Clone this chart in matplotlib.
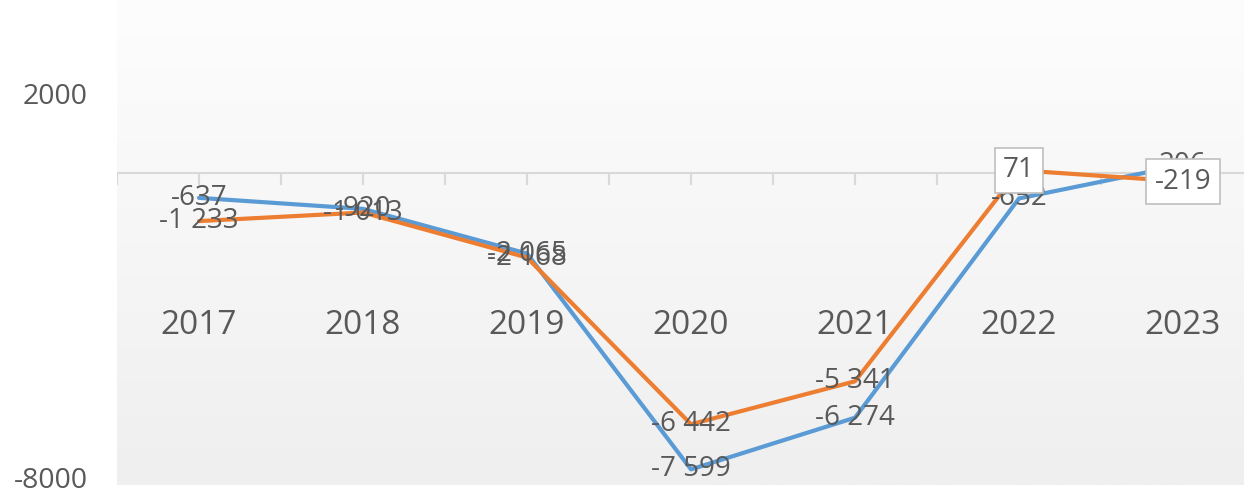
import numpy as np
import matplotlib
matplotlib.use('Agg')
import matplotlib.pyplot as plt
import matplotlib.transforms as mtrans

# data
years = ['2017', '2018', '2019', '2020', '2021', '2022', '2023']
blue_vals = [-637, -920, -2065, -7599, -6274, -652, 206]
orange_vals = [-1233, -1013, -2168, -6442, -5341, 71, -219]
boxed_orange = [5, 6]   # labels drawn with a frame
ytick_vals = [2000, -8000]

BLUE = '#5B9BD5'
ORANGE = '#ED7D31'
GREY_TXT = '#595959'

plt.rcParams['font.family'] = ['Open Sans', 'DejaVu Sans']


def fmt(v):
    s = '{:,}'.format(abs(v)).replace(',', ' ')
    return ('-' if v < 0 else '') + s


fig = plt.figure(figsize=(12.44, 4.96), dpi=100)
W, H = 1244.0, 496.0
ax = fig.add_axes([117 / W, 11 / H, 1148 / W, 485 / H])

y0, y1 = -8000, 4436
ax.set_xlim(-0.5, 6.5)

# plot area gradient (light grey bottom -> white top)
grad = np.linspace(0, 1, 256).reshape(-1, 1)
cmap = matplotlib.colors.LinearSegmentedColormap.from_list('bg', ['#efefef', '#fdfdfd'])
ax.imshow(grad, extent=[-0.5, 6.5, y0, y1], origin='lower', aspect='auto', cmap=cmap, zorder=0)
ax.set_ylim(y0, y1)

for sp in ax.spines.values():
    sp.set_visible(False)

# horizontal category axis at zero with small tick marks
ax.axhline(0, color='#d9d9d9', lw=1.5, zorder=1)
tick_len = 11 * (y1 - y0) / 485
for xt in np.arange(-0.5, 7.0, 0.5):
    ax.plot([xt, xt], [0, -tick_len], color='#d9d9d9', lw=1.5, zorder=1)

x = np.arange(len(years))
ax.plot(x, blue_vals, color=BLUE, lw=3.0, zorder=3, solid_capstyle='round')
ax.plot(x, orange_vals, color=ORANGE, lw=3.0, zorder=4, solid_capstyle='round')

# category labels
for i, yr in enumerate(years):
    ax.text(i, -3900, yr, ha='center', va='center', fontsize=24, color=GREY_TXT, zorder=5)

# data labels
for i, v in enumerate(blue_vals):
    ax.text(i, v, fmt(v), ha='center', va='center', fontsize=20, color=GREY_TXT, zorder=6)
for i, v in enumerate(orange_vals):
    if i in boxed_orange:
        ax.text(i, v, fmt(v), ha='center', va='center', fontsize=20, color=GREY_TXT, zorder=8,
                bbox=dict(boxstyle='square,pad=0.3', fc='white', ec='#bfbfbf', lw=1.2))
    else:
        ax.text(i, v, fmt(v), ha='center', va='center', fontsize=20, color=GREY_TXT, zorder=7)

ax.set_xticks([])
ax.set_yticks(ytick_vals)
ax.set_yticklabels([str(v) for v in ytick_vals], fontsize=20.5, color=GREY_TXT)
ax.tick_params(axis='y', length=0, pad=21)
# lift the labels a little, the bottom one more so it stays inside the figure
for lab, dy in zip(ax.get_yticklabels(), [2, 8]):
    lab.set_transform(lab.get_transform() + mtrans.ScaledTranslation(0, dy / 100, fig.dpi_scale_trans))

fig.savefig('out.png', dpi=100)
